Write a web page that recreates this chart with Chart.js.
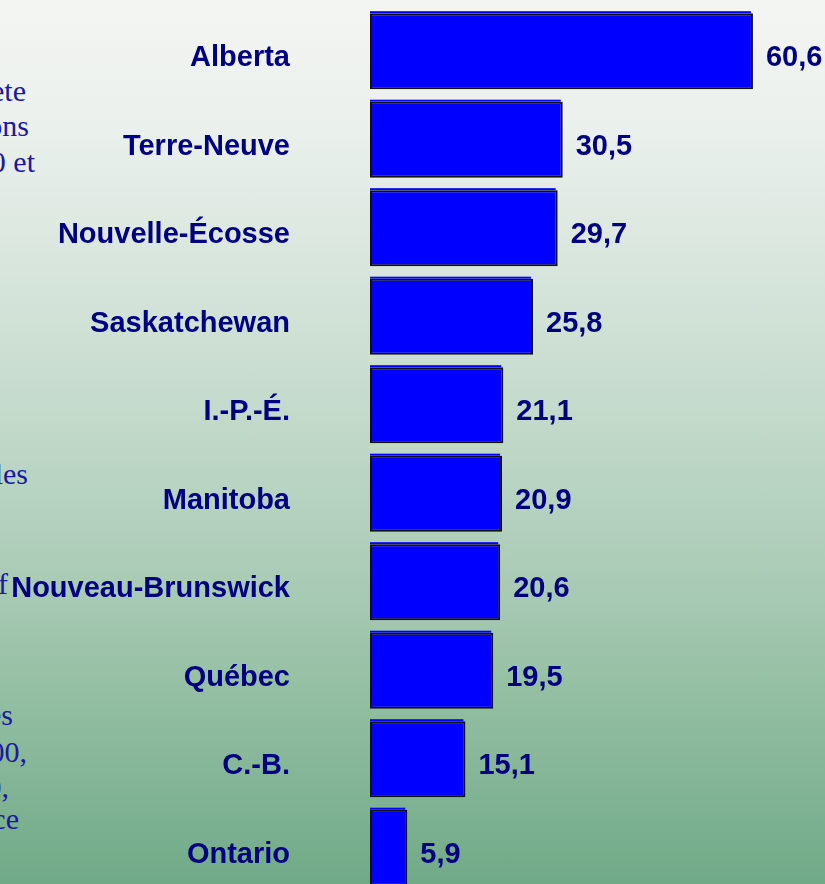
<!DOCTYPE html>
<html>
<head>
<meta charset="utf-8">
<script src="https://cdn.jsdelivr.net/npm/chart.js@4"></script>
<style>
  html, body { margin: 0; padding: 0; width: 825px; height: 884px; overflow: hidden; }
  body {
    position: relative;
    background: linear-gradient(to bottom, #f3f5f3 0%, #eaf0ec 15%, #c2d9ca 48%, #a6c9b3 68%, #91bda0 80%, #70aa87 100%);
  }
  .note {
    position: absolute; white-space: nowrap;
    font-family: 'Liberation Serif', 'Times New Roman', serif; font-size: 30px;
    color: #1a1a9e; line-height: 30px;
  }
  #wrap { position: absolute; left: 0; top: 0; width: 825px; height: 892px; }
</style>
</head>
<body>
<!-- clipped text box on the left of the slide, right edges only visible -->
<div class="note" style="right:799px; top:76px;">ete</div>
<div class="note" style="right:796px; top:111px;">ons</div>
<div class="note" style="right:790px; top:147px;">0 et</div>
<div class="note" style="right:797px; top:459px;">les</div>
<div class="note" style="right:817px; top:569px;">f</div>
<div class="note" style="right:812px; top:700px;">es</div>
<div class="note" style="right:798px; top:737px;">00,</div>
<div class="note" style="right:816px; top:772px;">0,</div>
<div class="note" style="right:806px; top:804px;">ce</div>
<div id="wrap"><canvas id="chart"></canvas></div>
<script>
// provinces and values, top to bottom
const provinces = ['Alberta', 'Terre-Neuve', 'Nouvelle-Écosse', 'Saskatchewan', 'I.-P.-É.',
    'Manitoba', 'Nouveau-Brunswick', 'Québec', 'C.-B.', 'Ontario'];
const values = [60.6, 30.5, 29.7, 25.8, 21.1, 20.9, 20.6, 19.5, 15.1, 5.9];

const navy = '#000080';
const boldFont = { family: "'Liberation Sans', Arial, sans-serif", size: 29, weight: 'bold' };

// thin blue edge peeking above each bar outline
const barEdge = {
    id: 'barEdge',
    beforeDatasetsDraw(chart) {
        const ctx = chart.ctx;
        ctx.save();
        ctx.fillStyle = '#0000ff';
        chart.getDatasetMeta(0).data.forEach((bar) => {
            const top = bar.y - bar.height / 2;
            ctx.fillRect(bar.base, top - 2, bar.x - bar.base - 2, 2);
        });
        ctx.restore();
    }
};

// value text to the right of each bar
const valueLabels = {
    id: 'valueLabels',
    afterDatasetsDraw(chart) {
        const ctx = chart.ctx;
        const meta = chart.getDatasetMeta(0);
        ctx.save();
        ctx.font = 'bold 29px "Liberation Sans", Arial, sans-serif';
        ctx.fillStyle = navy;
        ctx.textAlign = 'left';
        ctx.textBaseline = 'middle';
        meta.data.forEach((bar, i) => {
            ctx.fillText(values[i].toFixed(1).replace('.', ','), bar.x + 13, bar.y + 7);
        });
        ctx.restore();
    }
};

new Chart(document.querySelector('#chart'), {
    type: 'bar',
    data: {
        labels: provinces,
        datasets: [{
            data: values,
            backgroundColor: '#0000ff',
            borderColor: '#111111',
            borderWidth: 2,
            borderSkipped: false,
            barPercentage: 0.86,
            categoryPercentage: 1
        }]
    },
    options: {
        indexAxis: 'y',
        responsive: true,
        maintainAspectRatio: false,
        animation: false,
        layout: { padding: { top: 7, left: 0, right: 0, bottom: 0 } },
        scales: {
            x: { display: false, min: 0, max: 72 },
            y: {
                grid: { display: false, drawTicks: false },
                border: { display: false },
                ticks: { font: boldFont, color: navy, padding: 80, labelOffset: 7 },
                afterFit: (s) => {
                    s.width = 370;
                    // tick padding would otherwise eat space above and below
                    s.paddingTop = 0;
                    s.paddingBottom = 0;
                }
            }
        },
        plugins: {
            legend: { display: false },
            tooltip: { enabled: false }
        }
    },
    plugins: [barEdge, valueLabels]
});
</script>
</body>
</html>
